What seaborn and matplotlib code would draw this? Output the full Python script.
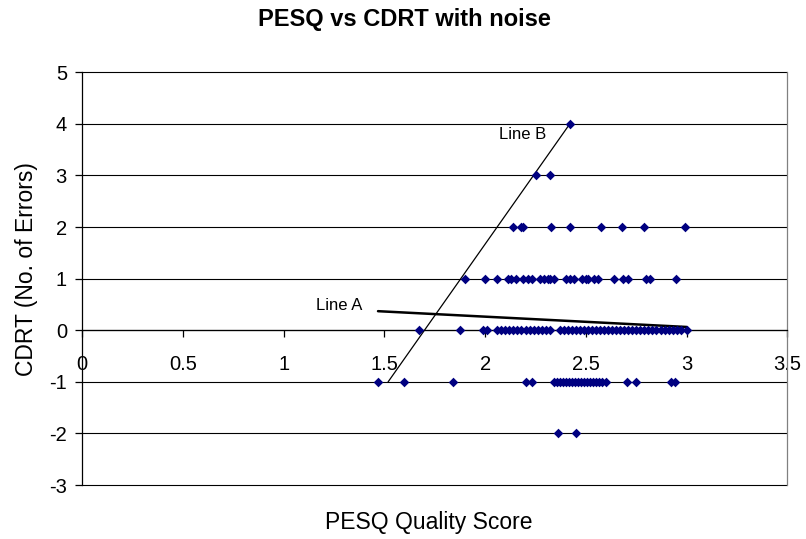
import pandas as pd
import matplotlib
matplotlib.use("Agg")
import matplotlib.pyplot as plt
import seaborn as sns

# PESQ scores grouped by CDRT value
pesq_cdrt_4 = [2.42]
pesq_cdrt_3 = [2.25, 2.32]
pesq_cdrt_2 = [2.14, 2.18, 2.19, 2.325, 2.42, 2.575, 2.68, 2.79, 2.99]
pesq_cdrt_1 = [1.90, 2.00, 2.06, 2.115, 2.13, 2.155, 2.19, 2.21, 2.23, 2.27,
               2.29, 2.31, 2.32, 2.34, 2.40, 2.42, 2.44, 2.48, 2.50, 2.51,
               2.54, 2.56, 2.64, 2.685, 2.71, 2.80, 2.82, 2.945]
pesq_cdrt_0 = [1.67, 1.875, 1.99, 2.01, 2.06, 2.08, 2.10, 2.12, 2.14, 2.16,
               2.18, 2.20, 2.22, 2.24, 2.26, 2.28, 2.30, 2.32, 2.37, 2.39,
               2.41, 2.43, 2.45, 2.47, 2.49, 2.51, 2.53, 2.55, 2.57, 2.59,
               2.61, 2.63, 2.65, 2.67, 2.69, 2.71, 2.73, 2.75, 2.77, 2.79,
               2.81, 2.83, 2.85, 2.87, 2.89, 2.91, 2.93, 2.95, 2.97, 3.00]
pesq_cdrt_m1 = [1.47, 1.595, 1.84, 2.20, 2.23, 2.34, 2.355, 2.37, 2.385, 2.40,
                2.415, 2.43, 2.445, 2.46, 2.475, 2.49, 2.505, 2.52, 2.535,
                2.55, 2.565, 2.58, 2.60, 2.705, 2.75, 2.92, 2.94]
pesq_cdrt_m2 = [2.36, 2.45]

# fitted lines
line_a_x = [1.468, 3.0]
line_a_y = [0.37, 0.064]
line_b_x = [1.518, 2.42]
line_b_y = [-1.0, 4.0]

rows = {4: pesq_cdrt_4, 3: pesq_cdrt_3, 2: pesq_cdrt_2, 1: pesq_cdrt_1,
        0: pesq_cdrt_0, -1: pesq_cdrt_m1, -2: pesq_cdrt_m2}
df = pd.DataFrame([(x, k) for k, xs in rows.items() for x in xs],
                  columns=["pesq", "cdrt"])

sns.set_style("white")
plt.rcParams["font.family"] = ["Liberation Sans", "DejaVu Sans"]
plt.rcParams["axes.unicode_minus"] = False
plt.rcParams["text.color"] = "black"

fig = plt.figure(figsize=(8.06, 5.39), dpi=100)
ax = fig.add_axes([0.102, 0.1, 0.875, 0.766])

for yv in range(-3, 6):
    ax.axhline(yv, color="black", lw=0.8, zorder=0, clip_on=False)

ax.plot(line_a_x, line_a_y, color="black", lw=1.8, zorder=2)
ax.plot(line_b_x, line_b_y, color="black", lw=0.9, zorder=2)

sns.scatterplot(data=df, x="pesq", y="cdrt", marker="D", color="#000080",
                s=24, edgecolor="#000080", linewidth=0, ax=ax, zorder=3)

ax.text(1.275, 0.48, "Line A", fontsize=12, ha="center", va="center",
        color="black")
ax.text(2.185, 3.79, "Line B", fontsize=12, ha="center", va="center",
        color="black")

ax.set_xlim(0, 3.5)
ax.set_ylim(-3, 5)
ax.set_xticks([0, 0.5, 1, 1.5, 2, 2.5, 3, 3.5])
ax.set_xticklabels(["0", "0.5", "1", "1.5", "2", "2.5", "3", "3.5"])
ax.set_yticks(range(-3, 6))
ax.set_yticklabels([str(v) for v in range(-3, 6)])

ax.spines["bottom"].set_position(("data", 0))
ax.spines["bottom"].set_color("black")
ax.spines["left"].set_color("black")
ax.spines["right"].set_color("#808080")
ax.spines["top"].set_visible(False)
for s in ax.spines.values():
    s.set_linewidth(0.9)

ax.tick_params(axis="both", labelsize=14.5, length=5, width=0.9,
               direction="out", bottom=True, left=True, colors="black",
               labelcolor="black")
ax.tick_params(axis="x", pad=13)
ax.tick_params(axis="y", pad=6)
ax.set_xlabel("")
ax.set_ylabel("")

fig.text(0.502, 0.963, "PESQ vs CDRT with noise", ha="center", va="center",
         fontsize=17, fontweight="bold", color="black")
fig.text(0.532, 0.03, "PESQ Quality Score", ha="center", va="center",
         fontsize=16.5, color="black")
fig.text(0.033, 0.5, "CDRT (No. of Errors)", ha="center", va="center",
         fontsize=16.5, rotation=90, color="black")

fig.savefig("out.png", dpi=100)
